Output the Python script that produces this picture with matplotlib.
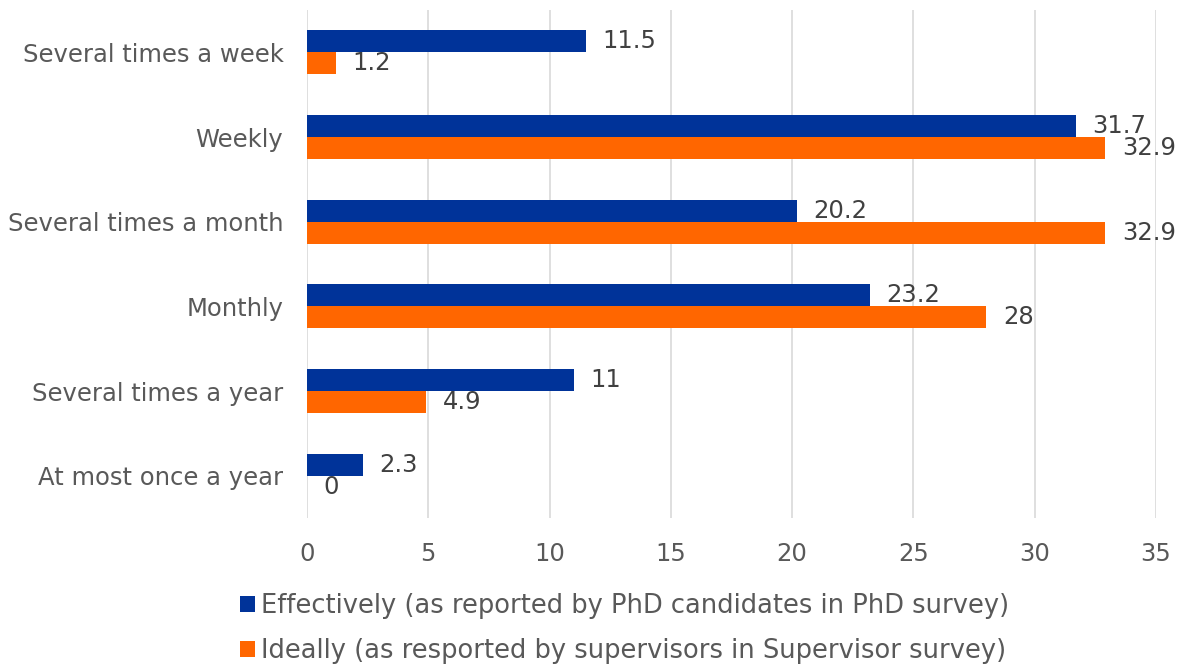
import numpy as np
import matplotlib
matplotlib.use('Agg')
import matplotlib.pyplot as plt

# font settings
matplotlib.rc('font', family='DejaVu Sans', size=17)

# data
categories = ['Several times a week', 'Weekly', 'Several times a month',
              'Monthly', 'Several times a year', 'At most once a year']
effectively = [11.5, 31.7, 20.2, 23.2, 11, 2.3]
ideally = [1.2, 32.9, 32.9, 28, 4.9, 0]
labels = ['Effectively (as reported by PhD candidates in PhD survey)',
          'Ideally (as resported by supervisors in Supervisor survey)']

# colors
colors = ['#003399', '#FF6600']
text_color = '#595959'

fig = plt.figure(figsize=(11.84, 6.69), dpi=100)
ax = fig.add_axes([0.2593, 0.2257, 0.7171, 0.7593])

y = np.arange(len(categories))
h = 0.26

b1 = ax.barh(y - h / 2, effectively, height=h, color=colors[0], label=labels[0], zorder=3)
b2 = ax.barh(y + h / 2, ideally, height=h, color=colors[1], label=labels[1], zorder=3)

# data labels
for bars, vals in [(b1, effectively), (b2, ideally)]:
    for rect, v in zip(bars, vals):
        ax.annotate('{0:g}'.format(v),
                    (rect.get_width(), rect.get_y() + rect.get_height() / 2),
                    xytext=(12, 0), textcoords='offset points',
                    ha='left', va='center', color='#404040', fontsize=17.5)

ax.set_ylim(len(categories) - 0.5, -0.5)
ax.set_yticks(y)
ax.set_yticklabels(categories)
ax.set_xlim(0, 35)
ax.set_xticks(np.arange(0, 36, 5))

# grid and spines
ax.grid(axis='x', color='#d9d9d9', linewidth=1.2, zorder=0)
for s in ax.spines.values():
    s.set_visible(False)
ax.tick_params(length=0, colors=text_color, labelsize=17.5)
ax.tick_params(axis='x', pad=17)
ax.tick_params(axis='y', pad=17)

# legend below the chart
fig.legend(handles=[b1, b2], loc='upper left', bbox_to_anchor=(0.2027, 0.1136),
           frameon=False, handlelength=0.6, handleheight=0.6, handletextpad=0.2,
           labelspacing=0.73, labelcolor=text_color, fontsize=18.5,
           borderaxespad=0, borderpad=0)

plt.savefig('out.png', dpi=100)
